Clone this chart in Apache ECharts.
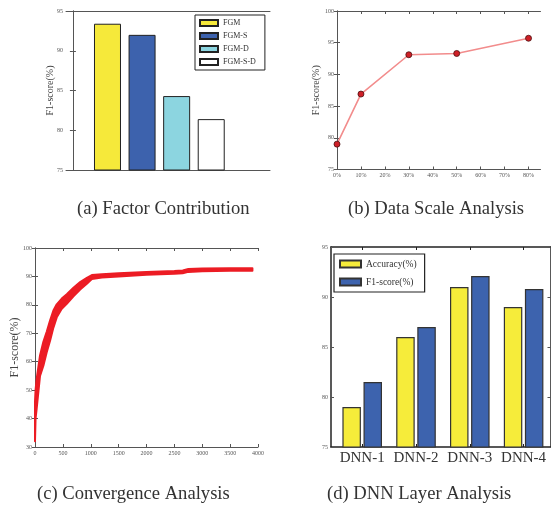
<!DOCTYPE html>
<html><head><meta charset="utf-8">
<script src="https://cdn.jsdelivr.net/npm/echarts@6/dist/echarts.min.js"></script>
<style>html,body{margin:0;padding:0;background:#fff}#c{width:551px;height:510px}</style>
</head><body><div id="c"></div>
<script>
// (a) Factor Contribution
const factorNames = ['FGM', 'FGM-S', 'FGM-D', 'FGM-S-D'];
const factorF1 = [93.4, 92.0, 84.3, 81.4];
// (b) Data Scale Analysis
const scalePct = [0, 10, 30, 50, 80];
const scaleF1 = [79.0, 86.9, 93.1, 93.3, 95.7];
const scaleTicks = [0, 10, 20, 30, 40, 50, 60, 70, 80];
// (c) Convergence Analysis (band: upper / lower envelope)
const convIter  = [0, 10, 30, 90, 150, 210, 270, 330, 390, 480, 570, 690, 810, 930, 1020, 1200, 1500, 2000, 2500, 2650, 2750, 3000, 3500, 3900];
const convUpper = [46, 50, 54, 62.2, 67, 70.5, 74.5, 78, 80.2, 82.2, 83.7, 86.0, 88.0, 89.5, 90.5, 90.8, 91.1, 91.6, 91.9, 92.1, 92.6, 92.8, 92.9, 92.9];
const convLower = [32, 40, 43.5, 55.0, 58.6, 63.3, 67.4, 72.0, 75.6, 78.6, 80.4, 83.0, 85.4, 87.4, 89.1, 89.6, 90.0, 90.6, 90.9, 91.1, 91.6, 91.8, 92.0, 92.0];
// (d) DNN Layer Analysis
const dnnLayers = ['DNN-1', 'DNN-2', 'DNN-3', 'DNN-4'];
const dnnAcc = [79.0, 86.0, 91.0, 89.0];
const dnnF1 = [81.5, 87.0, 92.1, 90.8];
const captions = ['(a) Factor Contribution', '(b) Data Scale Analysis', '(c) Convergence Analysis', '(d) DNN Layer Analysis'];

const serif = 'Liberation Serif';
const factorColors = ['#f6e93a', '#3d62ad', '#8cd5e0', '#ffffff'];
const frame = {show: true, lineStyle: {color: '#555', width: 1}};
const frameD = {show: true, lineStyle: {color: '#222', width: 1.5}};
const tl = {fontFamily: serif, fontSize: 6, color: '#555', margin: 3};
const tick = {show: true, inside: true, length: 3, lineStyle: {color: '#555'}};

function yPair(g, min, max, itv, name, gap, nameSize, fr) {
  return [
    {gridIndex: g, type: 'value', min: min, max: max, interval: itv, axisLine: fr, axisTick: tick,
     axisLabel: tl, splitLine: {show: false}, name: name, nameLocation: 'middle', nameGap: gap,
     nameMoveOverlap: false,
     nameTextStyle: {fontFamily: serif, fontSize: nameSize, color: '#444'}},
    {gridIndex: g, type: 'value', position: 'right', min: min, max: max, interval: itv, axisLine: fr,
     axisTick: tick, axisLabel: {show: false}, splitLine: {show: false}}
  ];
}

const grids = [
  {left: 66, top: 11, width: 204, height: 159},
  {left: 337, top: 11, width: 203.5, height: 158.5},
  {left: 35, top: 248, width: 223, height: 199},
  {left: 331, top: 247, width: 219.5, height: 200}
];

const xAxes = [
  {gridIndex: 0, type: 'value', min: -0.2, max: 5.7, axisLine: frame, axisTick: {show: false}, axisLabel: {show: false}, splitLine: {show: false}},
  {gridIndex: 0, type: 'value', position: 'top', min: -0.2, max: 5.7, axisLine: frame, axisTick: {show: false}, axisLabel: {show: false}, splitLine: {show: false}},
  {gridIndex: 1, type: 'value', min: 0, max: 85, axisLine: frame,
   axisTick: Object.assign({customValues: scaleTicks}, tick),
   axisLabel: Object.assign({customValues: scaleTicks, formatter: '{value}%'}, tl), splitLine: {show: false}},
  {gridIndex: 1, type: 'value', position: 'top', min: 0, max: 85, axisLine: frame,
   axisTick: Object.assign({customValues: scaleTicks}, tick), axisLabel: {show: false}, splitLine: {show: false}},
  {gridIndex: 2, type: 'value', min: 0, max: 4000, interval: 500, axisLine: frame, axisTick: tick,
   axisLabel: Object.assign({formatter: v => String(v)}, tl), splitLine: {show: false}},
  {gridIndex: 2, type: 'value', position: 'top', min: 0, max: 4000, interval: 500, axisLine: frame, axisTick: tick, axisLabel: {show: false}, splitLine: {show: false}},
  {gridIndex: 3, type: 'value', min: 0.42, max: 4.5, axisLine: frameD,
   axisTick: {show: true, inside: true, length: 3, customValues: [1, 2, 3, 4], lineStyle: {color: '#222'}},
   axisLabel: {customValues: [1, 2, 3, 4], formatter: v => dnnLayers[Math.round(v) - 1], fontFamily: serif, fontSize: 15, color: '#333', margin: 4},
   splitLine: {show: false}},
  {gridIndex: 3, type: 'value', position: 'top', min: 0.42, max: 4.5, axisLine: frameD,
   axisTick: {show: true, inside: true, length: 3, customValues: [1, 2, 3, 4], lineStyle: {color: '#222'}},
   axisLabel: {show: false}, splitLine: {show: false}}
];

const yAxes = [].concat(
  yPair(0, 75, 95, 5, 'F1-score(%)', 11, 10, frame),
  yPair(1, 75, 100, 5, 'F1-score(%)', 16, 10, frame),
  yPair(2, 30, 100, 10, 'F1-score(%)', 14, 12, frame),
  yPair(3, 75, 95, 5, '', 10, 10, frameD)
);

const series = [];
factorNames.forEach((n, i) => {
  series.push({type: 'bar', name: n, xAxisIndex: 0, yAxisIndex: 0, data: [[i + 1, factorF1[i]]],
    barWidth: 27, barGap: '-100%', itemStyle: {color: factorColors[i], borderColor: '#222', borderWidth: 1}});
});
series.push({type: 'line', name: 'scale', xAxisIndex: 2, yAxisIndex: 2,
  data: scalePct.map((p, i) => [p, scaleF1[i]]),
  lineStyle: {color: '#f28c8c', width: 1.6}, symbol: 'circle', symbolSize: 6,
  itemStyle: {color: '#cf1f27', borderColor: '#4a1010', borderWidth: 0.8}});
series.push({type: 'custom', name: 'conv', xAxisIndex: 4, yAxisIndex: 4,
  data: convIter.map((x, i) => [x, convUpper[i], convLower[i]]),
  encode: {x: 0, y: [1, 2]},
  renderItem: function (params, api) {
    if (params.dataIndex !== 0) return null;
    const pts = [];
    for (let i = 0; i < convIter.length; i++) pts.push(api.coord([convIter[i], convUpper[i]]));
    for (let i = convIter.length - 1; i >= 0; i--) pts.push(api.coord([convIter[i], convLower[i]]));
    return {type: 'polygon', shape: {points: pts},
      style: {fill: '#ec1c24', stroke: '#ec1c24', lineWidth: 2, lineJoin: 'round'}};
  }});
series.push({type: 'bar', name: 'Accuracy(%)', xAxisIndex: 6, yAxisIndex: 6,
  data: dnnLayers.map((_, i) => [i + 1, dnnAcc[i]]), barWidth: 18.5, barGap: '14%',
  itemStyle: {color: '#f6ec3a', borderColor: '#333', borderWidth: 1.2}});
series.push({type: 'bar', name: 'F1-score(%)', xAxisIndex: 6, yAxisIndex: 6,
  data: dnnLayers.map((_, i) => [i + 1, dnnF1[i]]), barWidth: 18.5, barGap: '14%',
  itemStyle: {color: '#3d63ae', borderColor: '#333', borderWidth: 1.2}});

const capPos = [[77, 200], [348, 200], [37, 485], [327, 485]];
const chart = echarts.init(document.getElementById('c'));
chart.setOption({
  animation: false,
  backgroundColor: '#fff',
  title: captions.map((t, i) => ({text: t, left: capPos[i][0], top: capPos[i][1], padding: 0,
    textStyle: {fontFamily: serif, fontSize: 18.6, fontWeight: 'normal', color: '#333'}})),
  legend: [
    {data: factorNames, left: 195, top: 15, orient: 'vertical', itemWidth: 18, itemHeight: 6, itemGap: 5,
     padding: [4, 9, 4, 4], borderColor: '#222', borderWidth: 1, backgroundColor: '#fff',
     textStyle: {fontFamily: serif, fontSize: 8, color: '#333'}, icon: 'rect', selectedMode: false},
    {data: ['Accuracy(%)', 'F1-score(%)'], left: 334, top: 254, orient: 'vertical', itemWidth: 21, itemHeight: 7, itemGap: 8,
     padding: [5, 8, 5, 5], borderColor: '#222', borderWidth: 1.2, backgroundColor: '#fff',
     textStyle: {fontFamily: serif, fontSize: 9.5, color: '#333'}, icon: 'rect', selectedMode: false}
  ],
  grid: grids,
  xAxis: xAxes,
  yAxis: yAxes,
  series: series
});
</script></body></html>
